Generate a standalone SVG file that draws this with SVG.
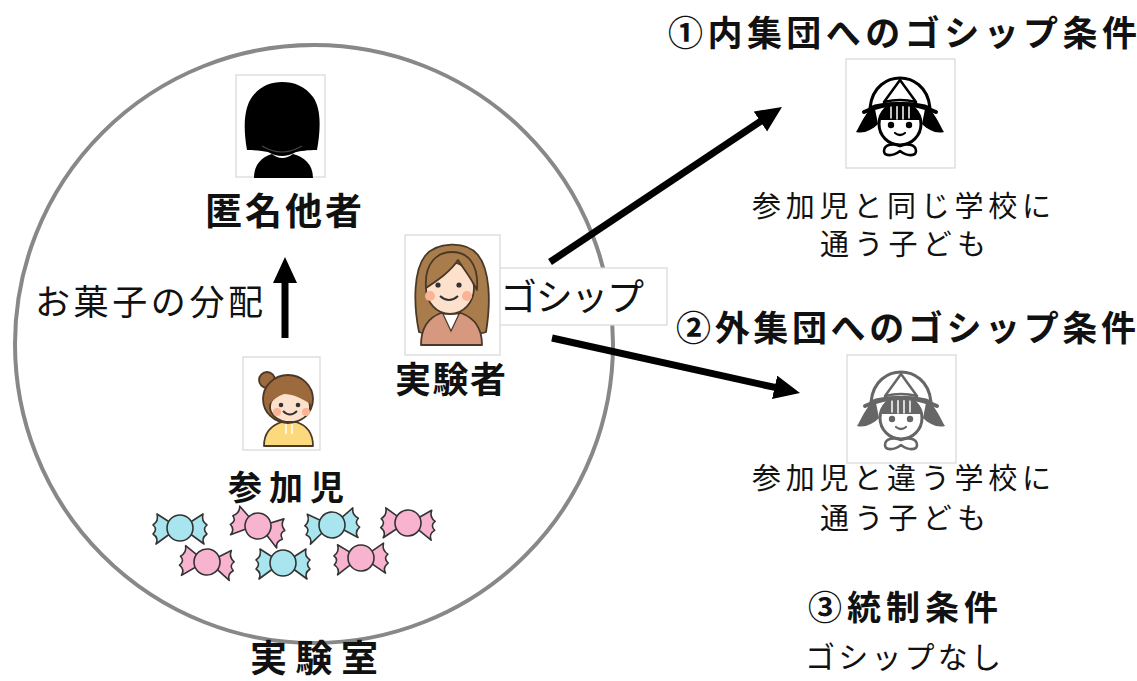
<svg xmlns="http://www.w3.org/2000/svg" width="1137" height="681" viewBox="0 0 1137 681">
  <style>
    .jp { font-family: "Noto Sans CJK JP", "Noto Sans", sans-serif; fill: #111; }
    .b { font-weight: 700; }
    .frame { fill: #fff; stroke: #d8d8d8; stroke-width: 1.2; }
    .room { fill: none; stroke: #888; stroke-width: 4; }
    .conn { stroke: #000; stroke-width: 7; fill: none; marker-end: url(#head); }
    .ink { stroke: #4a3828; stroke-width: 1.8; stroke-linejoin: round; }
  </style>
  <defs>
    <marker id="head" markerUnits="userSpaceOnUse" markerWidth="28" markerHeight="26" refX="4" refY="12" orient="auto">
      <path d="M0,0 L26,12 L0,24 Z" fill="#000"/>
    </marker>
    <!-- wrapped candy, fill supplied by each use -->
    <g id="candy" stroke="#333" stroke-width="1.6" stroke-linejoin="round">
      <path d="M 9 -5 L 23 -14 Q 21 -7 27 -3 Q 22 1 27 6 Q 21 10 24 16 L 9 5 Z"/>
      <path d="M -9 -5 L -23 -14 Q -21 -7 -27 -3 Q -22 1 -27 6 Q -21 10 -24 16 L -9 5 Z"/>
      <circle r="13"/>
    </g>
    <!-- kindergarten child in a school hat -->
    <g id="kid" fill="none" stroke-linejoin="round" stroke-linecap="round">
      <path d="M -26 -12 C -38 2 -40 10 -44 16 C -36 18 -28 14 -22 8 Z" fill="currentColor"/>
      <path d="M 26 -12 C 38 2 40 10 44 16 C 36 18 28 14 22 8 Z" fill="currentColor"/>
      <circle cx="0" cy="8" r="21" fill="#fff" stroke="currentColor" stroke-width="3"/>
      <path d="M -21 4 C -20 -6 -12 -12 0 -12 C 12 -12 20 -6 21 4 Z" fill="currentColor"/>
      <path d="M -9 -10 V 2 M -3 -11 V 3 M 3 -11 V 3 M 9 -10 V 2" stroke="#fff" stroke-width="1.5"/>
      <path d="M -30 -8 C -28 -30 -12 -38 0 -38 C 12 -38 28 -30 30 -8 C 18 -14 -18 -14 -30 -8 Z" fill="#fff" stroke="currentColor" stroke-width="3"/>
      <path d="M 0 -36 L -16 -14 M 0 -36 L 16 -14 M -16 -14 Q 0 -18 16 -14" stroke="currentColor" stroke-width="2.5"/>
      <path d="M -36 -4 Q 0 -20 36 -4" stroke="currentColor" stroke-width="4"/>
      <circle cx="-9" cy="9" r="3.2" fill="currentColor"/>
      <circle cx="9" cy="9" r="3.2" fill="currentColor"/>
      <path d="M -5 17 Q 0 21 5 17" stroke="currentColor" stroke-width="2.2"/>
      <path d="M 0 30 C -6 27 -16 28 -16 35 C -16 40 -8 41 0 35 C 8 41 16 40 16 35 C 16 28 6 27 0 30 Z" fill="#fff" stroke="currentColor" stroke-width="2.6"/>
    </g>
  </defs>

  <rect width="1137" height="681" fill="#fff"/>

  <!-- laboratory room -->
  <circle class="room" cx="314" cy="344" r="299"/>

  <!-- connectors -->
  <g id="connectors">
    <line class="conn" x1="285" y1="338" x2="285" y2="279"/>
    <line class="conn" x1="550" y1="262" x2="763.7" y2="119.2"/>
    <line class="conn" x1="552" y1="338" x2="778.5" y2="388.2"/>
  </g>

  <!-- anonymous other -->
  <g id="anonymous">
    <rect class="frame" x="236" y="75" width="89" height="102"/>
    <path d="M 254 178 C 254 164 262 157 272 154 Q 282 162 293 154 C 304 157 313 164 313 178 Z" fill="#000"/>
    <path d="M 247 150 C 243 128 244 108 252 97 C 260 86 271 82 282 82 C 294 82 305 86 313 97 C 321 108 321 128 317 150 C 308 150 300 151 296 152 Q 282 160 268 152 C 262 151 254 150 247 150 Z" fill="#000"/>
    <path d="M 262 146 Q 282 158 302 146" stroke="#444" stroke-width="1.2" fill="none"/>
    <text class="jp b" x="205" y="225" font-size="37" textLength="157" lengthAdjust="spacing">匿名他者</text>
  </g>

  <text class="jp" x="35" y="315" font-size="35" textLength="228" lengthAdjust="spacing">お菓子の分配</text>

  <!-- experimenter -->
  <g id="experimenter">
    <rect class="frame" x="497" y="268" width="170" height="57"/>
    <rect class="frame" x="405" y="235" width="95" height="120"/>
    <path class="ink" d="M 419 332 C 413 302 414 270 425 256 C 436 242 466 240 478 255 C 490 270 491 302 486 332 C 476 336 430 336 419 332 Z" fill="#a97c4b"/>
    <path class="ink" d="M 421 345 C 421 326 430 317 441 313 L 461 313 C 472 317 482 326 482 345 Z" fill="#d6997f"/>
    <path d="M 443 314 L 451 331 L 459 314 Z" fill="#fff" stroke="#4a3828" stroke-width="1.2"/>
    <ellipse class="ink" cx="450" cy="288" rx="24" ry="26" fill="#fde1cc"/>
    <path class="ink" d="M 426 288 C 424 262 438 252 452 252 C 468 252 479 264 477 290 C 470 276 463 268 458 260 C 450 272 438 280 426 288 Z" fill="#a97c4b"/>
    <circle cx="430" cy="296" r="5" fill="#f8b495"/>
    <circle cx="467" cy="296" r="5" fill="#f8b495"/>
    <circle cx="438" cy="285" r="2.6" fill="#333"/>
    <circle cx="459" cy="285" r="2.6" fill="#333"/>
    <path d="M 440 296 Q 449 304 458 296" stroke="#333" stroke-width="2" fill="none"/>
    <text class="jp" x="500" y="311" font-size="37" textLength="144" lengthAdjust="spacing">ゴシップ</text>
    <text class="jp b" x="395" y="393" font-size="36" textLength="111" lengthAdjust="spacing">実験者</text>
  </g>

  <!-- participant child -->
  <g id="participant">
    <rect class="frame" x="243" y="357" width="77" height="93"/>
    <path class="ink" d="M 264 446 C 264 432 272 425 282 422 L 296 422 C 306 425 313 432 313 446 Z" fill="#fbd97c"/>
    <path d="M 286 424 V 434 M 292 424 V 434" stroke="#fff" stroke-width="1.5"/>
    <circle class="ink" cx="267" cy="380" r="8" fill="#9c6a3c"/>
    <ellipse class="ink" cx="288" cy="399" rx="25" ry="24" fill="#9c6a3c"/>
    <ellipse class="ink" cx="290" cy="407" rx="20" ry="15" fill="#fde1cc"/>
    <path d="M 269 404 C 272 390 284 386 296 388 C 304 390 309 396 310 404 C 302 398 292 394 284 394 C 278 396 273 400 269 404 Z" fill="#9c6a3c"/>
    <circle cx="277" cy="412" r="4" fill="#f8b495"/>
    <circle cx="306" cy="412" r="4" fill="#f8b495"/>
    <circle cx="281" cy="405" r="2.3" fill="#333"/>
    <circle cx="298" cy="405" r="2.3" fill="#333"/>
    <path d="M 283 411 Q 290 418 297 411" stroke="#333" stroke-width="1.8" fill="none"/>
    <text class="jp b" x="228" y="500" font-size="34" textLength="116" lengthAdjust="spacing">参加児</text>
  </g>

  <!-- sweets -->
  <g id="sweets">
    <use href="#candy" transform="translate(180,528)" fill="#a9e5ef"/>
    <use href="#candy" transform="translate(258,526) rotate(16)" fill="#f8b3cf"/>
    <use href="#candy" transform="translate(332,525) rotate(-8)" fill="#a9e5ef"/>
    <use href="#candy" transform="translate(408,523) rotate(3)" fill="#f8b3cf"/>
    <use href="#candy" transform="translate(207,562) rotate(6)" fill="#f8b3cf"/>
    <use href="#candy" transform="translate(283,563)" fill="#a9e5ef"/>
    <use href="#candy" transform="translate(361,558) rotate(-2)" fill="#f8b3cf"/>
  </g>

  <text class="jp b" x="250" y="672" font-size="37" textLength="128" lengthAdjust="spacing">実験室</text>

  <!-- condition 1 -->
  <g id="ingroup">
    <text class="jp b" x="668" y="46" font-size="35" textLength="469" lengthAdjust="spacing">①内集団へのゴシップ条件</text>
    <rect class="frame" x="846" y="59" width="109" height="109"/>
    <use href="#kid" transform="translate(900,116)" color="#000"/>
    <text class="jp" x="752" y="217" font-size="29" textLength="299" lengthAdjust="spacing">参加児と同じ学校に</text>
    <text class="jp" x="820" y="255" font-size="29" textLength="166" lengthAdjust="spacing">通う子ども</text>
  </g>

  <!-- condition 2 -->
  <g id="outgroup">
    <text class="jp b" x="676" y="341" font-size="35" textLength="460" lengthAdjust="spacing">②外集団へのゴシップ条件</text>
    <rect class="frame" x="847" y="355" width="109" height="108"/>
    <use href="#kid" transform="translate(901,410)" color="#666"/>
    <text class="jp" x="752" y="489" font-size="29" textLength="299" lengthAdjust="spacing">参加児と違う学校に</text>
    <text class="jp" x="820" y="529" font-size="29" textLength="166" lengthAdjust="spacing">通う子ども</text>
  </g>

  <!-- condition 3 -->
  <g id="control">
    <text class="jp b" x="808" y="620" font-size="34" textLength="190" lengthAdjust="spacing">③統制条件</text>
    <text class="jp" x="805" y="668" font-size="30" textLength="196" lengthAdjust="spacing">ゴシップなし</text>
  </g>
</svg>
